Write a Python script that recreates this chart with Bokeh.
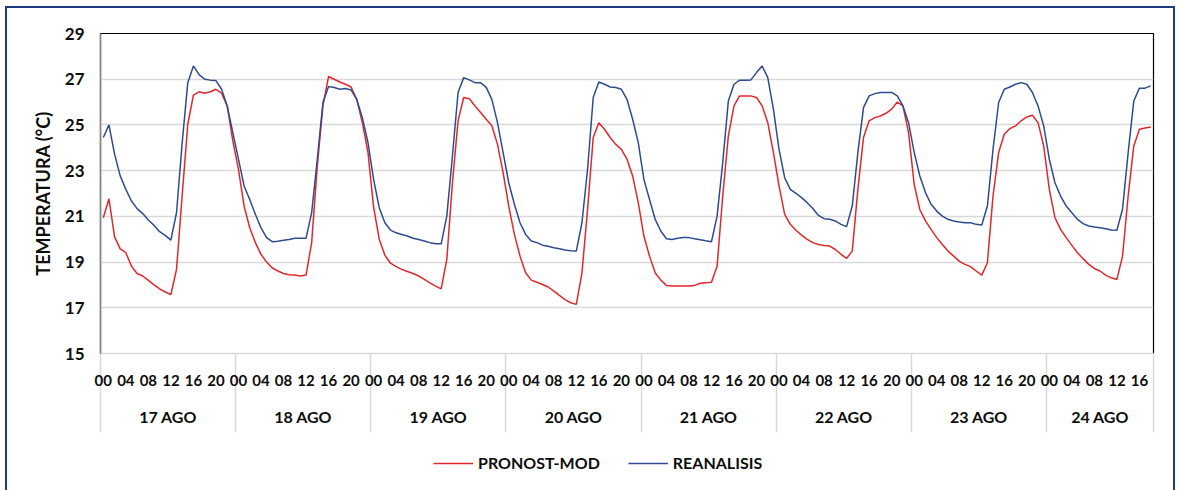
from bokeh.plotting import figure
from bokeh.layouts import column
from bokeh.models import Range1d, FixedTicker, LinearAxis, Legend, LegendItem, ColumnDataSource
from bokeh.embed import file_html
from bokeh.resources import INLINE

days = ["17 AGO", "18 AGO", "19 AGO", "20 AGO", "21 AGO", "22 AGO", "23 AGO", "24 AGO"]
hours_per_day = [24, 24, 24, 24, 24, 24, 24, 19]

pronost_17 = [20.94, 21.77, 20.10, 19.58, 19.41, 18.82, 18.50, 18.39, 18.20, 18.00, 17.83, 17.69,
              17.58, 18.68, 21.90, 25.03, 26.30, 26.45, 26.39, 26.45, 26.56, 26.39, 25.83, 24.30]
pronost_18 = [23.06, 21.45, 20.50, 19.85, 19.34, 19.00, 18.74, 18.61, 18.50, 18.45, 18.43, 18.39,
              18.43, 19.85, 23.20, 25.83, 27.12, 27.00, 26.88, 26.78, 26.66, 26.12, 25.10, 23.80]
pronost_19 = [21.40, 20.00, 19.30, 18.95, 18.80, 18.68, 18.59, 18.50, 18.39, 18.24, 18.09, 17.95,
              17.83, 19.12, 22.47, 25.18, 26.20, 26.15, 25.83, 25.54, 25.25, 24.96, 24.15, 22.91]
pronost_20 = [21.45, 20.21, 19.26, 18.53, 18.21, 18.12, 18.02, 17.91, 17.73, 17.54, 17.36, 17.22,
              17.15, 18.53, 21.31, 24.45, 25.10, 24.81, 24.45, 24.15, 23.93, 23.50, 22.77, 21.60]
pronost_21 = [20.14, 19.26, 18.53, 18.21, 17.98, 17.95, 17.95, 17.95, 17.95, 17.98, 18.07, 18.09,
              18.12, 18.82, 21.89, 24.52, 25.83, 26.27, 26.27, 26.27, 26.20, 25.83, 25.10, 23.79]
pronost_22 = [22.33, 21.09, 20.65, 20.39, 20.18, 19.99, 19.85, 19.77, 19.73, 19.70, 19.55, 19.34,
              19.16, 19.48, 22.18, 24.45, 25.18, 25.32, 25.39, 25.51, 25.69, 26.00, 25.83, 24.66]
pronost_23 = [22.40, 21.30, 20.80, 20.43, 20.07, 19.77, 19.48, 19.26, 19.04, 18.90, 18.80, 18.61,
              18.43, 18.97, 21.89, 23.79, 24.59, 24.84, 24.96, 25.18, 25.35, 25.42, 25.10, 24.08]
pronost_24 = [22.18, 20.94, 20.43, 20.07, 19.73, 19.41, 19.15, 18.90, 18.72, 18.61, 18.43, 18.31,
              18.24, 19.26, 21.89, 24.08, 24.81, 24.87, 24.91]

reanalisis_17 = [24.45, 25.00, 23.72, 22.77, 22.18, 21.67, 21.34, 21.12, 20.84, 20.61, 20.33, 20.17,
                 19.96, 21.16, 24.20, 26.85, 27.58, 27.20, 27.00, 26.96, 26.94, 26.56, 25.83, 24.66]
reanalisis_18 = [23.50, 22.33, 21.74, 21.09, 20.50, 20.07, 19.89, 19.91, 19.95, 19.99, 20.04, 20.04,
                 20.04, 21.16, 23.50, 25.98, 26.68, 26.64, 26.56, 26.59, 26.53, 26.12, 25.32, 24.23]
reanalisis_19 = [22.62, 21.38, 20.72, 20.40, 20.28, 20.21, 20.14, 20.04, 19.99, 19.92, 19.85, 19.80,
                 19.80, 21.01, 23.64, 26.42, 27.07, 26.97, 26.85, 26.85, 26.64, 26.12, 25.10, 23.79]
reanalisis_20 = [22.47, 21.53, 20.72, 20.21, 19.92, 19.85, 19.74, 19.69, 19.63, 19.58, 19.53, 19.50,
                 19.48, 20.72, 23.06, 26.20, 26.88, 26.78, 26.66, 26.64, 26.56, 26.12, 25.25, 24.23]
reanalisis_21 = [22.62, 21.74, 20.87, 20.36, 20.02, 19.99, 20.04, 20.07, 20.07, 20.02, 19.98, 19.93,
                 19.89, 21.01, 23.35, 26.05, 26.78, 26.96, 26.96, 26.97, 27.29, 27.58, 27.07, 25.69]
reanalisis_22 = [23.93, 22.69, 22.18, 22.01, 21.82, 21.60, 21.34, 21.04, 20.90, 20.87, 20.80, 20.65,
                 20.55, 21.45, 23.79, 25.76, 26.27, 26.37, 26.42, 26.42, 26.42, 26.27, 25.83, 25.10]
reanalisis_23 = [23.80, 22.77, 22.04, 21.53, 21.23, 21.01, 20.87, 20.80, 20.75, 20.72, 20.72, 20.65,
                 20.62, 21.45, 23.93, 25.98, 26.56, 26.66, 26.78, 26.85, 26.78, 26.42, 25.83, 24.96]
reanalisis_24 = [23.50, 22.47, 21.89, 21.45, 21.16, 20.87, 20.68, 20.58, 20.53, 20.50, 20.46, 20.40,
                 20.39, 21.31, 23.79, 26.05, 26.61, 26.61, 26.71]

y_ticks = [15, 17, 19, 21, 23, 25, 27, 29]

pronost = (pronost_17 + pronost_18 + pronost_19 + pronost_20 +
           pronost_21 + pronost_22 + pronost_23 + pronost_24)
reanalisis = (reanalisis_17 + reanalisis_18 + reanalisis_19 + reanalisis_20 +
              reanalisis_21 + reanalisis_22 + reanalisis_23 + reanalisis_24)

n = len(pronost)
x = list(range(n))

# hour tick positions / labels, day boundaries and day centres
hour_ticks, hour_labels = [], {}
boundaries, day_centers, day_labels = [], [], {}
start = 0
for d, nh in zip(days, hours_per_day):
    boundaries.append(start - 0.5)
    c = start + (nh - 1) / 2.0
    day_centers.append(c)
    day_labels[c] = d
    for h in range(0, nh, 4):
        hour_ticks.append(start + h)
        hour_labels[start + h] = "%02d" % h
    start += nh
boundaries.append(start - 0.5)

FONT = "Lato"
TXT = "#0d0d0d"
RED = "#E0282C"
BLUE = "#2F4B8F"

p = figure(frame_width=1053, frame_height=320, x_range=Range1d(-0.5, n - 0.5), y_range=Range1d(15, 29),
           output_backend="svg", toolbar_location=None,
           min_border_left=93, min_border_right=20, min_border_top=25, min_border_bottom=88,
           background_fill_color="white", border_fill_color="white")

p.outline_line_color = "black"
p.outline_line_width = 1.2

src = ColumnDataSource(dict(x=x, pronost=pronost, reanalisis=reanalisis))
r1 = p.line("x", "pronost", source=src, line_color=RED, line_width=1.5)
r2 = p.line("x", "reanalisis", source=src, line_color=BLUE, line_width=1.5)

# y axis
yax = p.yaxis[0]
yax.ticker = FixedTicker(ticks=y_ticks)
yax.major_tick_out = 0
yax.major_tick_in = 0
yax.minor_tick_line_color = None
yax.axis_line_color = "#868686"
yax.axis_line_width = 1.5
yax.major_label_text_font = FONT
yax.major_label_text_font_style = "bold"
yax.major_label_text_font_size = "17px"
yax.major_label_text_color = TXT
yax.major_label_standoff = 16
yax.axis_label = "TEMPERATURA (°C)"
yax.axis_label_text_font = FONT
yax.axis_label_text_font_style = "bold"
yax.axis_label_text_font_size = "18px"
yax.axis_label_text_color = TXT
yax.axis_label_standoff = 8

p.ygrid.ticker = FixedTicker(ticks=y_ticks)
p.ygrid.grid_line_color = "#D9D9D9"
p.ygrid.grid_line_width = 1.5
p.xgrid.grid_line_color = None

# hour axis (minor ticks = day separators running down through both label rows)
xax = p.xaxis[0]
xax.ticker = FixedTicker(ticks=hour_ticks, minor_ticks=boundaries)
xax.major_label_overrides = hour_labels
xax.major_tick_out = 0
xax.major_tick_in = 0
xax.major_tick_line_color = None
xax.minor_tick_in = 0
xax.minor_tick_out = 79
xax.minor_tick_line_color = "#D9D9D9"
xax.minor_tick_line_width = 1.5
xax.axis_line_color = "#D9D9D9"
xax.axis_line_width = 1.5
xax.major_label_text_font = FONT
xax.major_label_text_font_style = "bold"
xax.major_label_text_font_size = "15px"
xax.major_label_text_color = TXT
xax.major_label_standoff = -58

# day axis
dax = LinearAxis(ticker=FixedTicker(ticks=day_centers), major_label_overrides=day_labels)
dax.axis_line_color = None
dax.major_tick_line_color = None
dax.minor_tick_line_color = None
dax.major_tick_out = 0
dax.major_tick_in = 0
dax.minor_tick_out = 0
dax.minor_tick_in = 0
dax.major_label_text_font = FONT
dax.major_label_text_font_style = "bold"
dax.major_label_text_font_size = "16px"
dax.major_label_text_color = TXT
dax.major_label_standoff = 18
p.add_layout(dax, "below")

# legend strip below the chart (its lines fall outside this strip's ranges,
# so only the legend samples are visible)
pl = figure(width=1166, height=49, x_range=Range1d(0, 1), y_range=Range1d(0, 1),
            output_backend="svg", toolbar_location=None,
            x_axis_type=None, y_axis_type=None, min_border=0,
            background_fill_color="white", border_fill_color="white")
pl.outline_line_color = None
pl.xgrid.grid_line_color = None
pl.ygrid.grid_line_color = None
lr1 = pl.line("x", "pronost", source=src, line_color=RED, line_width=1.5)
lr2 = pl.line("x", "reanalisis", source=src, line_color=BLUE, line_width=1.5)

legend = Legend(items=[LegendItem(label="PRONOST-MOD", renderers=[lr1]),
                       LegendItem(label="REANALISIS", renderers=[lr2])],
                orientation="horizontal", location=(333, 18),
                border_line_color=None, background_fill_alpha=0,
                label_text_font=FONT, label_text_font_style="bold",
                label_text_font_size="16px", label_text_color=TXT,
                glyph_width=40, glyph_height=16, label_standoff=5, spacing=28,
                label_height=16, padding=2, margin=0)
pl.add_layout(legend, "center")

layout = column(p, pl, spacing=0,
                styles={"border": "2px solid #1E3A7B", "margin-left": "5px", "margin-top": "6px"})

open("out.html", "w").write(file_html(layout, INLINE))
